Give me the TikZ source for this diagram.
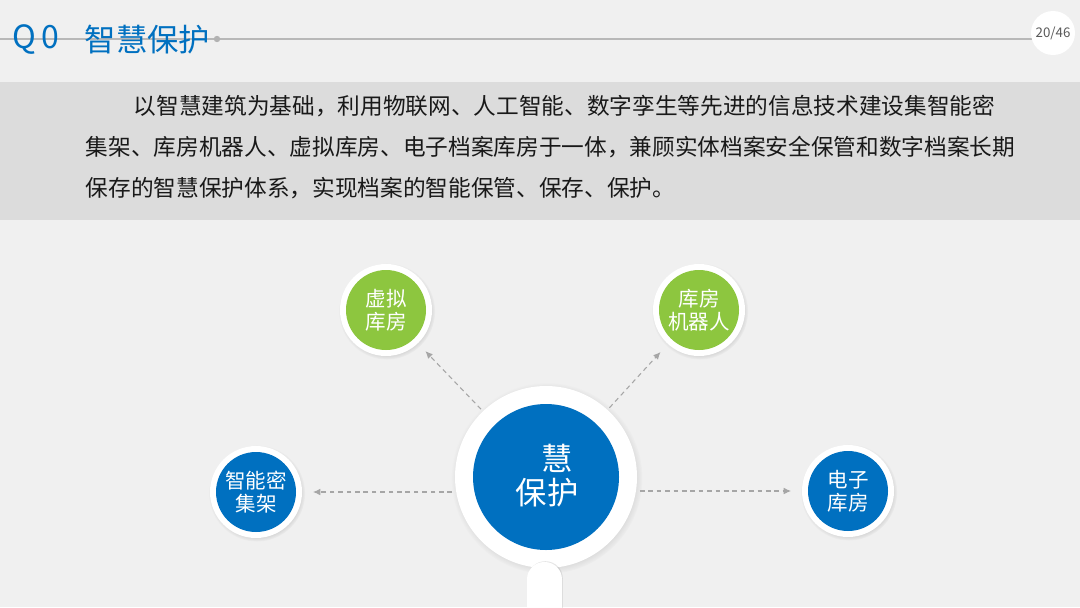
\documentclass[tikz,border=0pt]{standalone}
\usepackage{fontspec}
\setmainfont{Noto Sans CJK SC}
\usetikzlibrary{arrows.meta,shadows}
\definecolor{slideblue}{HTML}{0070C0}
\definecolor{slidegreen}{HTML}{8DC63F}
\definecolor{bandgray}{HTML}{DCDCDC}
\definecolor{pagegray}{HTML}{F0F0F0}
\definecolor{linkgray}{HTML}{A6A6A6}

\begin{document}
\begin{tikzpicture}[x=0.75pt,y=-0.75pt,
    ring/.style={circle,fill=white,inner sep=0pt,minimum size=69pt,
      circular drop shadow={shadow xshift=0.6pt,shadow yshift=-0.9pt,shadow scale=1.05,opacity=0.35}},
    core/.style={circle,fill=#1,inner sep=0pt,minimum size=60pt,text=white,align=center,
      font=\fontsize{15.4}{17.3}\selectfont},
    link/.style={draw=linkgray,dash pattern=on 3.5pt off 2.8pt,line width=0.8pt,
      -{Latex[length=5.5pt,width=5pt]},shorten >=8pt,shorten <=2pt},
    bodytext/.style={anchor=base west,text=black!90,font=\fontsize{17}{30}\selectfont}]

    % Slide background
    \fill[pagegray] (0,0) rectangle (1080,607);
    \useasboundingbox (0,0) rectangle (1080,607);
    \fill[bandgray] (0,82) rectangle (1080,220);

    % Title bar
    \draw[linkgray!80,line width=0.8pt] (0,39) -- (1040,39);
    \fill[gray!60] (217,39) circle[radius=2.4pt];
    \node[anchor=west,text=slideblue,font=\fontsize{24}{24}\selectfont] (titleno) at (8,40) {Q\hspace{0.15em}0};
    \node[anchor=west,text=slideblue,font=\fontsize{23.5}{23.5}\selectfont] (title) at (80,40) {智慧保护};
    \node[circle,fill=white,minimum size=33pt,inner sep=0pt,text=gray!70!black,
      font=\fontsize{10}{10}\selectfont] (pageno) at (1053,33) {20/46};

    % Intro text
    \node[bodytext] (line1) at (129,114) {以智慧建筑为基础，利用物联网、人工智能、数字孪生等先进的信息技术建设集智能密};
    \node[bodytext] (line2) at (81,155) {集架、库房机器人、虚拟库房、电子档案库房于一体，兼顾实体档案安全保管和数字档案长期};
    \node[bodytext] (line3) at (81,196) {保存的智慧保护体系，实现档案的智能保管、保存、保护。};

    % Hub with handle
    \node[ring,minimum size=136.5pt] (hubring) at (546,477) {};
    \path[fill=white,rounded corners=13pt,
      drop shadow={shadow xshift=0.6pt,shadow yshift=0.6pt,opacity=0.2}] (527,650) rectangle (562,562);
    \node[core=slideblue,minimum size=109.5pt] (hub) at (hubring) {};
    \node[text=white,font=\fontsize{23.5}{23.5}\selectfont] (hubtop) at (557,458) {慧};
    \node[text=white,font=\fontsize{23.5}{23.5}\selectfont] (hubbot) at (547,493) {保护};

    % Satellites
    \node[ring] (virtring) at (386,310) {};
    \node[core=slidegreen] (virt) at (virtring) {虚拟\\库房};
    \node[ring] (robotring) at (699,310) {};
    \node[core=slidegreen] (robot) at (robotring) {库房\\机器人};
    \node[ring] (densering) at (256,492) {};
    \node[core=slideblue] (dense) at (densering) {智能密\\集架};
    \node[ring] (ebring) at (848,491) {};
    \node[core=slideblue] (eb) at (ebring) {电子\\库房};

    % Links
    \draw[link] (hubring) -- (virtring);
    \draw[link] (hubring) -- (robotring);
    \draw[link] (hubring.west |- densering) -- (densering);
    \draw[link] (hubring.east |- ebring) -- (ebring);
\end{tikzpicture}
\end{document}
